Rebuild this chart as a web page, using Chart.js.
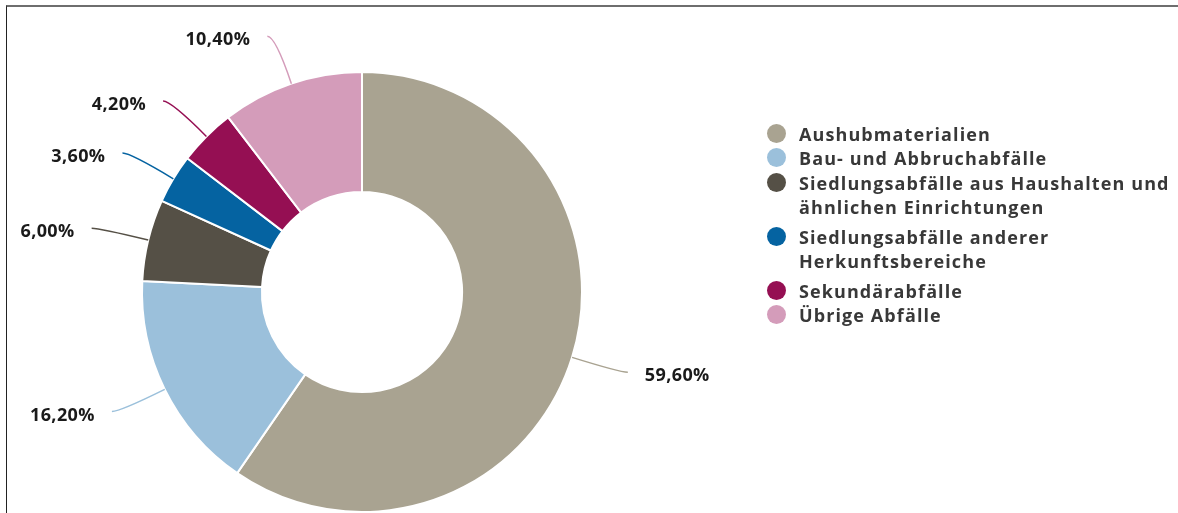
<!DOCTYPE html>
<html lang="de">
<head>
<meta charset="utf-8">
<title>Abfallaufkommen nach Abfallart</title>
<script src="https://cdn.jsdelivr.net/npm/chart.js@4.4.1/dist/chart.umd.min.js"></script>
<style>
    html, body { margin: 0; padding: 0; background: #fff; }
    body { width: 1178px; height: 513px; position: relative; overflow: hidden; font-family: 'Open Sans', 'DejaVu Sans', sans-serif; }
    .frame { position: absolute; left: 6px; top: 5px; right: -4px; bottom: -4px; border-top: 2px solid #6e6e6e; border-left: 1px solid #222; }
    .wrap { position: absolute; left: 0; top: 0; width: 1178px; height: 513px; }
    #legend { position: absolute; left: 767px; top: 122px; width: 410px; margin: 0; padding: 0; list-style: none; }
    #legend li { position: relative; padding-left: 32px; line-height: 24.3px; font-size: 18px; font-weight: 700; color: #383838; letter-spacing: 1.1px; white-space: nowrap; }
    #legend li.multi { margin: 0 0 5.5px 0; }
    #legend li .dot { position: absolute; left: 0; top: 2px; width: 19px; height: 19px; border-radius: 50%; }
</style>
</head>
<body>
<div class="frame"></div>
<div class="wrap"><canvas id="wasteChart" width="1178" height="513"></canvas></div>
<ul id="legend"></ul>
<script>
const categories = ['Aushubmaterialien', 'Bau- und Abbruchabfälle', 'Siedlungsabfälle aus Haushalten und ähnlichen Einrichtungen', 'Siedlungsabfälle anderer Herkunftsbereiche', 'Sekundärabfälle', 'Übrige Abfälle'];
const legendLines = [['Aushubmaterialien'], ['Bau- und Abbruchabfälle'], ['Siedlungsabfälle aus Haushalten und', 'ähnlichen Einrichtungen'], ['Siedlungsabfälle anderer', 'Herkunftsbereiche'], ['Sekundärabfälle'], ['Übrige Abfälle']];
const shares = [59.6, 16.2, 6.0, 3.6, 4.2, 10.4];
const colors = ['#a9a391', '#9bc0db', '#555046', '#0563a1', '#950f53', '#d49cba'];

const fmtPct = v => v.toFixed(2).replace('.', ',') + '%';

// leader lines + percentage labels outside each slice
const leaderLabels = {
    id: 'leaderLabels',
    afterDatasetsDraw(chart) {
        const ctx = chart.ctx;
        const meta = chart.getDatasetMeta(0);
        ctx.save();
        ctx.font = 'bold 18px "Open Sans", "DejaVu Sans", sans-serif';
        ctx.letterSpacing = '0.4px';
        ctx.textBaseline = 'middle';
        meta.data.forEach((arc, i) => {
            const mid = (arc.startAngle + arc.endAngle) / 2;
            const dx = Math.cos(mid), dy = Math.sin(mid);
            const r0 = arc.outerRadius;
            const sx = arc.x + dx * r0, sy = arc.y + dy * r0;
            const cx = arc.x + dx * (r0 + 50), cy = arc.y + dy * (r0 + 50);
            const side = dx >= 0 ? 1 : -1;
            const ex = cx + side * 8, ey = cy;
            ctx.strokeStyle = colors[i];
            ctx.lineWidth = 1.5;
            ctx.beginPath();
            ctx.moveTo(sx, sy);
            ctx.quadraticCurveTo(cx, cy, ex, ey);
            ctx.stroke();
            ctx.fillStyle = '#1a1a1a';
            ctx.textAlign = side > 0 ? 'left' : 'right';
            ctx.fillText(fmtPct(shares[i]), ex + side * 17, ey + 4);
        });
        ctx.restore();
    }
};

new Chart(document.getElementById('wasteChart'), {
    type: 'doughnut',
    data: {
        labels: categories,
        datasets: [{
            data: shares,
            backgroundColor: colors,
            borderColor: '#ffffff',
            borderWidth: 2
        }]
    },
    options: {
        responsive: false,
        animation: false,
        cutout: '45.5%',
        layout: { padding: { left: 141, right: 595, top: 71, bottom: 0 } },
        plugins: {
            legend: { display: false },
            tooltip: { enabled: false }
        },
        events: []
    },
    plugins: [leaderLabels]
});

const lg = document.getElementById('legend');
categories.forEach((c, i) => {
    const lines = legendLines[i];
    lg.innerHTML += `<li class="${lines.length > 1 ? 'multi' : ''}" title="${c}"><span class="dot" style="background:${colors[i]}"></span>${lines.join('<br>')}</li>`;
});
</script>
</body>
</html>
